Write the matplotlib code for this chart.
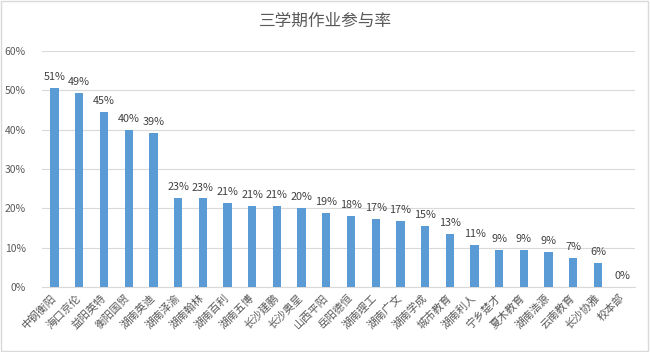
import matplotlib
matplotlib.use("Agg")
import matplotlib.pyplot as plt
from matplotlib.patches import Rectangle
from matplotlib.ticker import PercentFormatter

plt.rcParams['font.family'] = ['Noto Sans CJK SC', 'DejaVu Sans']

categories = ["中钢衡阳", "海口京伦", "益阳英特", "衡阳国贸", "湖南英迪", "湖南泽渝", "湖南翰林",
              "湖南百利", "湖南五博", "长沙建鹏", "长沙奥星", "山西平阳", "岳阳德恒", "湖南理工",
              "湖南广文", "湖南学成", "城市教育", "湖南利人", "宁乡楚才", "夏木教育", "湖南浩源",
              "云南教育", "长沙协雅", "校本部"]
values = [50.6, 49.4, 44.6, 40.0, 39.2, 22.7, 22.6, 21.4, 20.7, 20.6, 20.1, 18.9, 18.1, 17.3,
          16.8, 15.5, 13.5, 10.7, 9.4, 9.4, 8.9, 7.4, 6.1, 0.0]
labels = ["51%", "49%", "45%", "40%", "39%", "23%", "23%", "21%", "21%", "21%", "20%", "19%",
          "18%", "17%", "17%", "15%", "13%", "11%", "9%", "9%", "9%", "7%", "6%", "0%"]
yticks = [0, 10, 20, 30, 40, 50, 60]
title = "三学期作业参与率"

fig = plt.figure(figsize=(6.5, 3.52), dpi=100)
ax = fig.add_axes([0.065, 0.185, 0.912, 0.67])

x = list(range(len(categories)))
ax.bar(x, values, width=0.34, color="#5B9BD5", zorder=3)
for xi, v, lab in zip(x, values, labels):
    ax.text(xi, v + 1.4, lab, ha="center", va="bottom", fontsize=7.8, color="#404040")

ax.set_xlim(-0.5, len(categories) - 0.5)
ax.set_ylim(0, 60)
ax.set_yticks(yticks)
ax.yaxis.set_major_formatter(PercentFormatter(decimals=0))
ax.grid(axis="y", color="#D9D9D9", linewidth=0.8, zorder=0)
for s in ["top", "right", "left"]:
    ax.spines[s].set_visible(False)
ax.spines["bottom"].set_color("#D9D9D9")
ax.tick_params(axis="y", length=0, labelsize=7.5, labelcolor="#595959", pad=12)
ax.tick_params(axis="x", length=0, pad=4)
ax.set_xticks(x)
ax.set_xticklabels(categories, rotation=45, ha="right", va="center",
                   rotation_mode="anchor", fontsize=7.8, color="#595959")
for t in ax.get_xticklabels():
    t.set_y(-0.015)

fig.text(0.5, 0.94, title, ha="center", va="center", fontsize=12, color="#595959")
fig.patches.append(Rectangle((0.002, 0.003), 0.995, 0.994, transform=fig.transFigure,
                             fill=False, edgecolor="#D9D9D9", linewidth=1.0))
fig.savefig("out.png", dpi=100, facecolor="white")
